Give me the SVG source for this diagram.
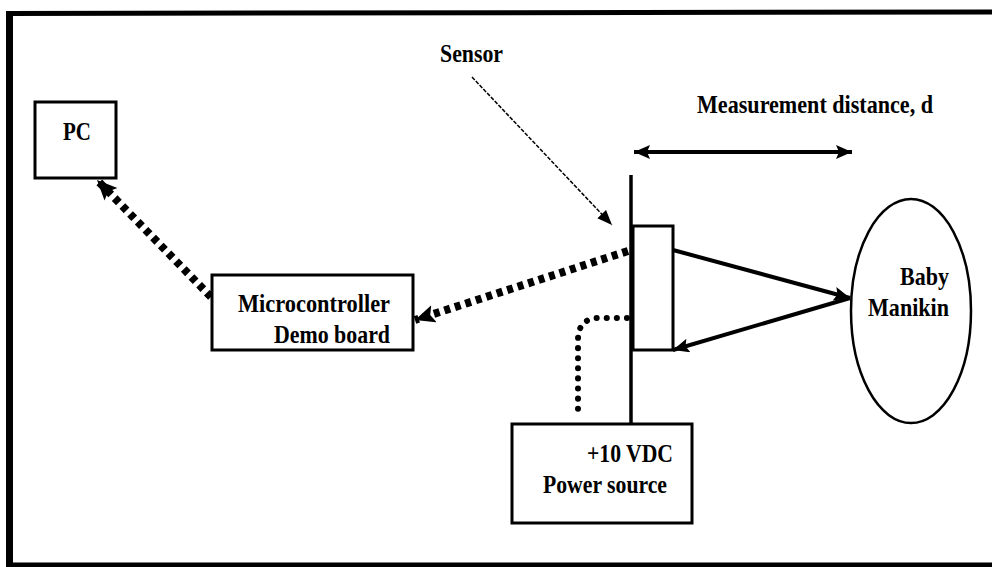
<svg xmlns="http://www.w3.org/2000/svg" width="992" height="567" viewBox="0 0 992 567">
<style>
.box{fill:#fff;stroke:#000;stroke-width:3}
.t{font-family:"Liberation Serif","Times New Roman",serif;font-weight:bold;font-size:25px;fill:#000}
.dots{fill:none;stroke:#000;stroke-width:8;stroke-dasharray:6 5}
.dots2{fill:none;stroke:#000;stroke-width:6;stroke-linecap:round;stroke-dasharray:0.1 10}
.solid{fill:none;stroke:#000;stroke-width:4}
</style>
<defs>
<marker id="bigHead" markerUnits="userSpaceOnUse" markerWidth="24" markerHeight="20" refX="20" refY="9" orient="auto">
<path d="M0,0 L20,9 L0,18 L4,9 z" fill="#000"/>
</marker>
<marker id="head" markerUnits="userSpaceOnUse" markerWidth="20" markerHeight="16" refX="16" refY="7" orient="auto">
<path d="M0,0 L16,7 L0,14 L3,7 z" fill="#000"/>
</marker>
<marker id="headStart" markerUnits="userSpaceOnUse" markerWidth="20" markerHeight="16" refX="0" refY="7" orient="auto">
<path d="M16,0 L0,7 L16,14 L13,7 z" fill="#000"/>
</marker>
<marker id="thinHead" markerUnits="userSpaceOnUse" markerWidth="18" markerHeight="14" refX="15" refY="6" orient="auto">
<path d="M0,0 L15,6 L0,12 z" fill="#000"/>
</marker>
</defs>
<rect x="0" y="0" width="992" height="567" fill="#fff"/>
<g id="frame" stroke="#000" fill="none">
<line x1="9.5" y1="12" x2="9.5" y2="567" stroke-width="7"/>
<line x1="6" y1="13.5" x2="992" y2="12" stroke-width="5"/>
<line x1="6" y1="565" x2="992" y2="565" stroke-width="5"/>
</g>
<g id="connectors">
<path class="dots" d="M211,297 L97,180" marker-end="url(#bigHead)"/>
<path class="dots" d="M628,251 L415,320" marker-end="url(#bigHead)"/>
<path class="dots2" d="M627,318 L596,318 Q578,320 578,340 L578,415"/>
<path fill="none" stroke="#000" stroke-width="1.5" stroke-dasharray="4 1.5" d="M472,77 L612,225" marker-end="url(#thinHead)"/>
<path class="solid" d="M634,152 L852,152" marker-start="url(#headStart)" marker-end="url(#head)"/>
<path class="solid" d="M673,250 L850,298" marker-end="url(#head)"/>
<path class="solid" d="M850,298 L673,350" marker-end="url(#head)"/>
</g>
<g id="sensorLabel">
<text class="t" x="440" y="62" textLength="63" lengthAdjust="spacingAndGlyphs">Sensor</text>
</g>
<g id="measurement">
<text class="t" x="697" y="113" font-size="23" textLength="236" lengthAdjust="spacingAndGlyphs">Measurement distance, d</text>
</g>
<g id="stand">
<line x1="631" y1="175" x2="631" y2="424" stroke="#000" stroke-width="3.5"/>
</g>
<g id="sensor">
<rect class="box" x="633" y="226" width="40" height="124" stroke-width="2.5"/>
</g>
<g id="pc">
<rect class="box" x="35" y="102" width="81" height="76"/>
<text class="t" x="63" y="140" textLength="28" lengthAdjust="spacingAndGlyphs">PC</text>
</g>
<g id="microcontroller">
<rect class="box" x="212" y="275" width="201" height="75"/>
<text class="t" x="238" y="312" textLength="152" lengthAdjust="spacingAndGlyphs">Microcontroller</text>
<text class="t" x="274" y="343" textLength="116" lengthAdjust="spacingAndGlyphs">Demo board</text>
</g>
<g id="power">
<rect class="box" x="512" y="424" width="180" height="99"/>
<text class="t" x="587" y="462" textLength="86" lengthAdjust="spacingAndGlyphs">+10 VDC</text>
<text class="t" x="543" y="493" textLength="124" lengthAdjust="spacingAndGlyphs">Power source</text>
</g>
<g id="manikin">
<ellipse cx="911" cy="311" rx="60" ry="112" fill="none" stroke="#000" stroke-width="2.5"/>
<text class="t" x="900" y="285" textLength="49" lengthAdjust="spacingAndGlyphs">Baby</text>
<text class="t" x="868" y="316" textLength="81" lengthAdjust="spacingAndGlyphs">Manikin</text>
</g>
</svg>
